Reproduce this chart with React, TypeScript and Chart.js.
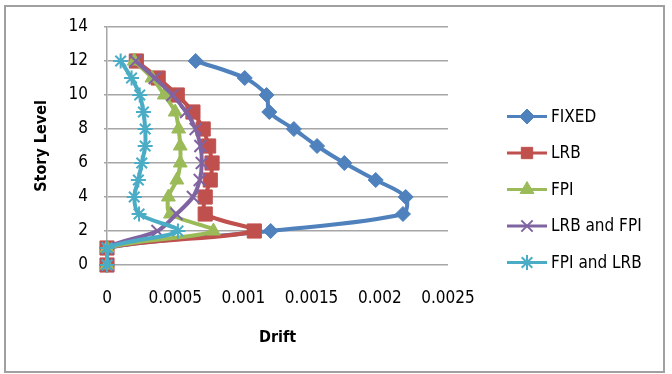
import { useEffect, useRef } from 'react';
import { Chart, registerables } from 'chart.js';
import { drawPoint } from 'chart.js/helpers';

Chart.register(...registerables);

// Story levels (y) and inter-story drift per isolation system (x)
const storyLevels = [0, 1, 2, 3, 4, 5, 6, 7, 8, 9, 10, 11, 12];
const fixedDrift = [0, 0, 0.0012, 0.00217, 0.00219, 0.00197, 0.00174, 0.00154, 0.00137, 0.00119, 0.00117, 0.00101, 0.00065];
const lrbDrift = [0, 0, 0.00108, 0.00072, 0.00072, 0.000757, 0.00077, 0.000745, 0.000705, 0.00063, 0.000515, 0.000375, 0.000215];
const fpiDrift = [0, 0, 0.00078, 0.000465, 0.00045, 0.000512, 0.000537, 0.000537, 0.000525, 0.0005, 0.00042, 0.00033, 0.0002];
const lrbFpiDrift = [0, 0, 0.00037, 0.00051, 0.00063, 0.00068, 0.000695, 0.000685, 0.00065, 0.00058, 0.00048, 0.00035, 0.00021];
const fpiLrbDrift = [0, 0, 0.00052, 0.000235, 0.0002, 0.00023, 0.000255, 0.00028, 0.00028, 0.000267, 0.00024, 0.00018, 0.0001];

const seriesNames = ['FIXED', 'LRB', 'FPI', 'LRB and FPI', 'FPI and LRB'];
const seriesValues = [fixedDrift, lrbDrift, fpiDrift, lrbFpiDrift, fpiLrbDrift];
const seriesColors = ['#4F81BD', '#C0504D', '#9BBB59', '#8064A2', '#4BACC6'];
const seriesMarkers = ['rectRot', 'rect', 'triangle', 'crossRot', 'star'];
const markerRadius = [7.5, 10, 8, 8.5, 7.5];

const driftTicks = [0, 0.0005, 0.001, 0.0015, 0.002, 0.0025];
const levelTicks = [0, 2, 4, 6, 8, 10, 12, 14];

const FONT = '"DejaVu Sans Condensed", "DejaVu Sans", sans-serif';
const GRID = '#a6a6a6';

const frameBorder = {
  id: 'frameBorder',
  beforeDraw(chart: any) {
    const ctx = chart.ctx;
    ctx.save();
    ctx.fillStyle = '#ffffff';
    ctx.fillRect(0, 0, chart.width, chart.height);
    ctx.strokeStyle = '#a0a0a0';
    ctx.lineWidth = 2;
    ctx.strokeRect(5, 6, chart.width - 13, chart.height - 8);
    ctx.restore();
  },
};

const sideLegend = {
  id: 'sideLegend',
  afterDraw(chart: any) {
    const ctx = chart.ctx;
    const x0 = chart.chartArea.right + 59;
    const x1 = x0 + 40;
    const midY = chart.height / 2 + 2.5;
    ctx.save();
    chart.data.datasets.forEach((ds: any, i: number) => {
      const y = midY + (i - 2) * 36.5;
      ctx.strokeStyle = ds.borderColor;
      ctx.lineWidth = 3;
      ctx.beginPath();
      ctx.moveTo(x0, y);
      ctx.lineTo(x1, y);
      ctx.stroke();
      ctx.fillStyle = ds.pointBackgroundColor;
      ctx.strokeStyle = ds.pointBorderColor;
      ctx.lineWidth = ds.pointBorderWidth;
      const r = Math.min(ds.pointRadius, 8);
      drawPoint(ctx, { pointStyle: ds.pointStyle, radius: r, rotation: 0, borderWidth: ds.pointBorderWidth }, (x0 + x1) / 2, y);
      ctx.fillStyle = '#000';
      ctx.font = `17px ${FONT}`;
      ctx.textAlign = 'left';
      ctx.textBaseline = 'middle';
      ctx.fillText(ds.label, x1 + 4, y + 1);
    });
    ctx.restore();
  },
};

export default function App() {
  const canvasRef = useRef<HTMLCanvasElement>(null);

  useEffect(() => {
    document.body.style.margin = '0';
    const canvas = canvasRef.current;
    if (!canvas) return;
    const datasets = seriesNames.map((name, i) => ({
      label: name,
      data: storyLevels.map((lvl, j) => ({ x: seriesValues[i][j], y: lvl })),
      showLine: true,
      clip: false as any,
      borderColor: seriesColors[i],
      backgroundColor: seriesColors[i],
      borderWidth: 4,
      tension: 0.3,
      pointStyle: seriesMarkers[i],
      pointRadius: markerRadius[i],
      pointBackgroundColor: seriesColors[i],
      pointBorderColor: seriesColors[i],
      pointBorderWidth: i >= 3 ? 2 : 1,
      order: seriesNames.length - i,
    }));

    const chart = new Chart(canvas, {
      type: 'scatter',
      data: { datasets },
      options: {
        animation: false,
        responsive: false,
        layout: { padding: { left: 0, top: 27, right: 224, bottom: 0 } },
        plugins: { legend: { display: false }, tooltip: { enabled: false } },
        scales: {
          x: {
            type: 'linear',
            min: 0,
            max: 0.0025,
            afterBuildTicks: (scale: any) => {
              scale.ticks = driftTicks.map((v) => ({ value: v }));
            },
            afterFit: (scale: any) => {
              scale.height = 109;
            },
            grid: { display: false, drawTicks: false },
            border: { display: false },
            ticks: {
              padding: 23,
              color: '#000',
              font: { family: FONT, size: 17 },
              maxRotation: 0,
              callback: (v: any) => String(Number(Number(v).toFixed(4))),
            },
            title: {
              display: true,
              text: 'Drift',
              color: '#000',
              font: { family: FONT, size: 16, weight: 'bold' },
              padding: { top: 0, bottom: 27 },
            },
          },
          y: {
            type: 'linear',
            min: 0,
            max: 14,
            afterBuildTicks: (scale: any) => {
              scale.ticks = levelTicks.map((v) => ({ value: v }));
            },
            afterFit: (scale: any) => {
              scale.width = 107;
            },
            grid: { color: GRID, lineWidth: 1.5, tickLength: 3 },
            border: { display: true, color: GRID, width: 1.5 },
            ticks: {
              padding: 16,
              color: '#000',
              font: { family: FONT, size: 17 },
            },
            title: {
              display: true,
              text: 'Story Level',
              color: '#000',
              font: { family: FONT, size: 16, weight: 'bold' },
              padding: { top: 32, bottom: 0 },
            },
          },
        },
      },
      plugins: [frameBorder, sideLegend],
    });
    return () => chart.destroy();
  }, []);

  return (
    <div style={{ position: 'fixed', left: 0, top: 0, width: 672, height: 374 }}>
      <canvas ref={canvasRef} width={672} height={374} />
    </div>
  );
}
